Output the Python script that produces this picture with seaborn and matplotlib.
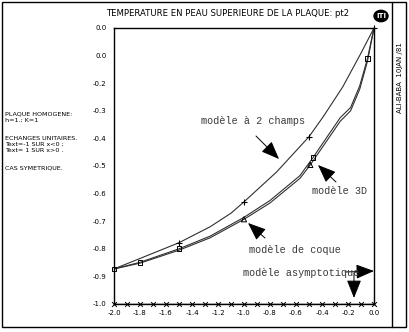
import matplotlib
matplotlib.use("Agg")
import matplotlib.pyplot as plt
import seaborn as sns
import pandas as pd
from matplotlib.patches import Rectangle, Circle
from matplotlib.lines import Line2D

# ---- data ----
x_2champs = [-2.0, -1.5, -1.26, -1.1, -1.0, -0.75, -0.5, -0.39, -0.24, -0.1, 0.0]
y_2champs = [-0.873, -0.778, -0.720, -0.671, -0.630, -0.522, -0.394, -0.321, -0.213, -0.091, 0.0]
mk_2champs = [-1.5, -1.0, -0.5, 0.0]

x_3d = [-2.0, -1.8, -1.5, -1.26, -1.0, -0.8, -0.57, -0.47, -0.26, -0.18, -0.11, -0.05, 0.0]
y_3d = [-0.873, -0.849, -0.800, -0.754, -0.686, -0.625, -0.535, -0.470, -0.325, -0.288, -0.210, -0.110, 0.0]
mk_3d = [-2.0, -1.8, -1.5, -0.47, -0.05]

x_coque = [-2.0, -1.8, -1.5, -1.26, -1.0, -0.8, -0.57, -0.49, -0.26, -0.18, -0.11, -0.05, 0.0]
y_coque = [-0.873, -0.852, -0.805, -0.760, -0.693, -0.634, -0.545, -0.496, -0.338, -0.300, -0.222, -0.120, 0.0]
mk_coque = [-1.0, -0.49]

x_asym = [-2.0, -1.9, -1.8, -1.7, -1.6, -1.5, -1.4, -1.3, -1.2, -1.1, -1.0,
          -0.9, -0.8, -0.7, -0.6, -0.5, -0.4, -0.3, -0.2, -0.1, 0.0]
y_asym = [-1.0] * 21

yticks = [0.0, -0.1, -0.2, -0.3, -0.4, -0.5, -0.6, -0.7, -0.8, -0.9, -1.0]
ytick_labels = ["0.0", "0.0", "-0.2", "-0.3", "-0.4", "-0.5", "-0.6", "-0.7", "-0.8", "-0.9", "-1.0"]
xticks = [-2.0, -1.8, -1.6, -1.4, -1.2, -1.0, -0.8, -0.6, -0.4, -0.2, 0.0]
xtick_labels = ["-2.0", "-1.8", "-1.6", "-1.4", "-1.2", "-1.0", "-0.8", "-0.6", "-0.4", "-0.2", "0.0"]

title = "TEMPERATURE EN PEAU SUPERIEURE DE LA PLAQUE: pt2"
side_text = ["PLAQUE HOMOGENE:", "h=1.; K=1", "ECHANGES UNITAIRES.",
             "Text=-1 SUR x<0 ;", "Text= 1 SUR x>0 .", "CAS SYMETRIQUE."]
stamp = "ALI-BABA  10JAN /81"

# ---- style ----
sns.set_theme(style="white")
NARROW = ["Liberation Sans Narrow", "DejaVu Sans"]
MONO = ["Liberation Mono", "DejaVu Sans Mono"]
plt.rcParams["font.family"] = NARROW

W, H = 410, 332
fig = plt.figure(figsize=(W / 100, H / 100), dpi=100)
fig.patch.set_facecolor("white")

def fx(px):
    return px / W

def fy(py):
    return 1 - py / H

L, R, T, B = 114, 374, 28, 304
ax = fig.add_axes([fx(L), fy(B), (R - L) / W, (B - T) / H])
ax.set_facecolor("white")

line_kw = dict(color="#303030", linewidth=0.8, sort=False, legend=False, ax=ax)
df2 = pd.DataFrame({"x": x_2champs, "y": y_2champs})
df3 = pd.DataFrame({"x": x_3d, "y": y_3d})
dfc = pd.DataFrame({"x": x_coque, "y": y_coque})
dfa = pd.DataFrame({"x": x_asym, "y": y_asym})
sns.lineplot(data=df2, x="x", y="y", **line_kw)
sns.lineplot(data=df3, x="x", y="y", **line_kw)
sns.lineplot(data=dfc, x="x", y="y", **line_kw)
sns.lineplot(data=dfa, x="x", y="y", color="black", linewidth=1.0, sort=False, legend=False, ax=ax)

m2 = df2[df2["x"].isin(mk_2champs)]
m3 = df3[df3["x"].isin(mk_3d)]
mc = dfc[dfc["x"].isin(mk_coque)]
sc_kw = dict(ax=ax, legend=False, clip_on=False, zorder=5)
sns.scatterplot(data=m2, x="x", y="y", marker="+", s=24, color="black", linewidth=0.8, **sc_kw)
sns.scatterplot(data=m3, x="x", y="y", marker="s", s=11, facecolor="none", edgecolor="black", linewidth=0.7, **sc_kw)
sns.scatterplot(data=mc, x="x", y="y", marker="^", s=14, facecolor="none", edgecolor="black", linewidth=0.7, **sc_kw)
sns.scatterplot(data=dfa, x="x", y="y", marker="x", s=12, color="black", linewidth=0.7, **sc_kw)

ax.set_xlim(-2.0, 0.0)
ax.set_ylim(-1.0, 0.0)
ax.set_xticks(xticks)
ax.set_xticklabels(xtick_labels)
ax.set_yticks(yticks)
ax.set_yticklabels(ytick_labels)
ax.set_xlabel("")
ax.set_ylabel("")
ax.tick_params(axis="both", labelsize=5, colors="black", width=0.8, length=4, direction="out", pad=1.5)
ax.tick_params(axis="x", direction="inout", length=6)
for s in ax.spines.values():
    s.set_color("black")
    s.set_linewidth(1.0)

# ---- annotations (figure pixel coordinates) ----
def arrow(tail, tip):
    fig.add_artist(matplotlib.patches.FancyArrowPatch(
        (fx(tail[0]), fy(tail[1])), (fx(tip[0]), fy(tip[1])),
        transform=fig.transFigure, arrowstyle="-|>,head_length=0.8,head_width=0.32",
        mutation_scale=14, color="black", linewidth=0.7, shrinkA=0, shrinkB=0))

lab_kw = dict(family=MONO, fontsize=7.3, color="#3a3a3a", va="center", ha="left")
fig.text(fx(201), fy(121), "modèle à 2 champs", **lab_kw)
fig.text(fx(312), fy(191), "modèle 3D", **lab_kw)
fig.text(fx(249), fy(250), "modèle de coque", **lab_kw)
fig.text(fx(243), fy(273), "modèle asymptotique", **lab_kw)
arrow((256, 136), (279, 159))
arrow((336, 182), (318, 165))
arrow((265, 238), (248, 223))
arrow((345, 272), (374, 271))
arrow((354, 273), (354, 298))

# title and side notes
fig.text(fx(228), fy(14), title, fontsize=6.1, ha="center", va="center", color="black")
side_y = [114, 120, 138, 144, 151, 168]
for t, yy in zip(side_text, side_y):
    fig.text(fx(5), fy(yy), t, fontsize=4.6, ha="left", va="center", color="black")

# frame and right strip
fig.add_artist(Rectangle((fx(2), fy(327)), fx(404), (325) / H, transform=fig.transFigure,
                         fill=False, edgecolor="black", linewidth=1.0))
fig.add_artist(Line2D([fx(392), fx(392)], [fy(2), fy(327)], transform=fig.transFigure,
                      color="black", linewidth=1.0))
fig.text(fx(400), fy(78), stamp, rotation=90, fontsize=5, ha="center", va="center", color="black")
fig.add_artist(Circle((fx(381), fy(16)), 7 / W, transform=fig.transFigure,
                      facecolor="black", edgecolor="black"))
fig.text(fx(381), fy(16), "ITI", fontsize=5, color="white", ha="center", va="center", fontweight="bold")

fig.savefig("out.png", dpi=100)
